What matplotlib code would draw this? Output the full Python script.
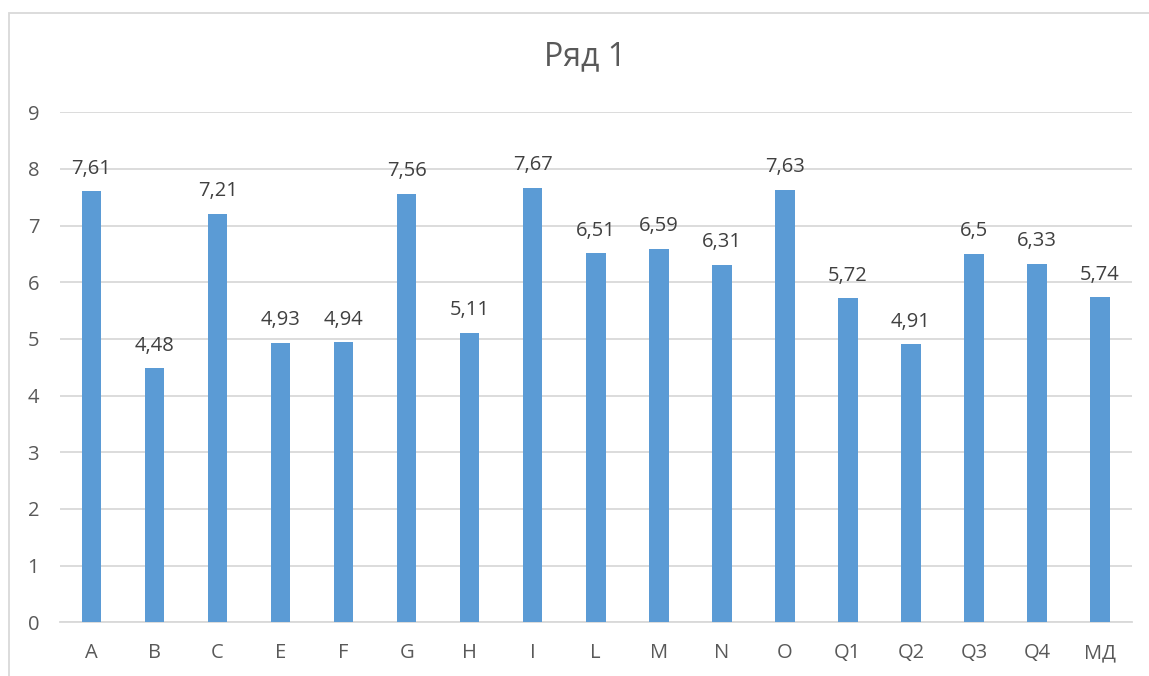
import matplotlib
matplotlib.use("Agg")
import matplotlib.pyplot as plt
from matplotlib.patches import Rectangle

categories = ["A", "B", "C", "E", "F", "G", "H", "I", "L", "M", "N", "O",
              "Q1", "Q2", "Q3", "Q4", "МД"]
values = [7.61, 4.48, 7.21, 4.93, 4.94, 7.56, 5.11, 7.67, 6.51, 6.59, 6.31,
          7.63, 5.72, 4.91, 6.5, 6.33, 5.74]
yticks = list(range(0, 10))
title = "Ряд 1"

FONT = ["Open Sans", "DejaVu Sans"]
TEXT = "#595959"
GRID = "#d9d9d9"
BAR = "#5b9bd5"

plt.rcParams["font.family"] = FONT

W, H = 1149, 676
fig = plt.figure(figsize=(W / 100, H / 100), dpi=100)
fig.patch.set_facecolor("white")

# chart-area frame (open on the right and bottom edges of the canvas)
fig.add_artist(Rectangle((8.5 / W, -0.05), 1.2, 1 - 12.5 / H + 0.05,
                         transform=fig.transFigure, fill=False,
                         edgecolor=GRID, linewidth=1.3))

ax = fig.add_axes([60 / W, 1 - 622.3 / H, (1131.5 - 60) / W, (622.3 - 112.3) / H])
x = list(range(len(categories)))
ax.bar(x, values, width=0.31, color=BAR, zorder=3)

ax.set_xlim(-0.5, len(categories) - 0.5)
ax.set_ylim(0, 9)
ax.set_yticks(yticks)
ax.set_yticklabels([str(t) for t in yticks])
ax.set_xticks(x)
ax.set_xticklabels(categories)
ax.tick_params(axis="both", length=0, labelsize=14.5, labelcolor=TEXT)
ax.tick_params(axis="y", pad=15)
ax.tick_params(axis="x", pad=15)

ax.grid(axis="y", color=GRID, linewidth=1.3, zorder=0)
for side in ("top", "right", "left"):
    ax.spines[side].set_visible(False)
ax.spines["bottom"].set_color(GRID)
ax.spines["bottom"].set_linewidth(1.3)
ax.set_facecolor("white")

for xi, v in zip(x, values):
    label = f"{v:g}".replace(".", ",")
    ax.annotate(label, (xi, v), xytext=(0, 9), textcoords="offset points",
                ha="center", va="bottom", fontsize=14.5, color="#404040")

fig.text(585 / W, 1 - 57 / H, title, ha="center", va="center",
         fontsize=23, color=TEXT)

fig.savefig("out.png", dpi=100, facecolor="white")
